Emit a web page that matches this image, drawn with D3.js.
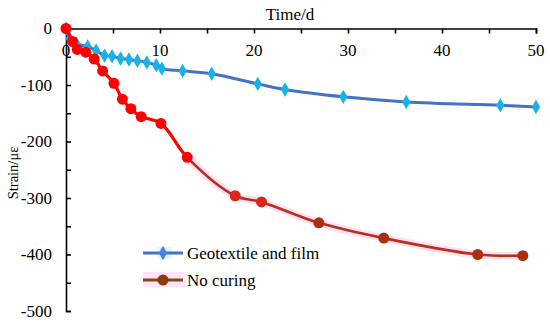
<!DOCTYPE html>
<html><head><meta charset="utf-8">
<script src="https://cdn.jsdelivr.net/npm/d3@7"></script>
<style>body{margin:0;background:#fff}svg{display:block}</style>
</head><body>
<svg id="c" width="550" height="327" font-family="'Liberation Serif', 'Times New Roman', Times, 'DejaVu Serif', serif"></svg>
<script>
const xTicks = [0, 10, 20, 30, 40, 50];
const yTicks = [0, -100, -200, -300, -400, -500];
const seriesNames = ["Geotextile and film", "No curing"];
const geoT = [0, 0.4, 1.1, 2.3, 3.2, 4.1, 4.9, 5.8, 6.7, 7.6, 8.6, 9.6, 10.2, 12.4, 15.5, 20.4, 23.3, 29.5, 36.2, 46.2, 50];
const geoV = [0, -18, -27, -32, -39, -48, -49, -53, -55, -57, -60, -65, -71, -75, -80, -98, -108, -121, -130, -136, -139];
const noT = [0, 0.7, 1.2, 2.1, 3.0, 3.9, 5.1, 6.0, 6.9, 8.0, 10.1, 12.9, 18.0, 20.8, 26.9, 33.8, 43.8, 48.6];
const noV = [0, -23, -37, -42, -54, -75, -97, -125, -142, -156, -168, -228, -296, -307, -344, -371, -400, -402];

const FONT = "'Liberation Serif', 'Times New Roman', Times, 'DejaVu Serif', serif";
const svg = d3.select("#c");
const x = d3.scaleLinear().domain([0, 50]).range([66, 536]);
const y = d3.scaleLinear().domain([0, -500]).range([28.5, 311]);

const geo = geoT.map((t, i) => [t, geoV[i]]);
const noc = noT.map((t, i) => [t, noV[i]]);
const line = d3.line().x(d => x(d[0])).y(d => y(d[1])).curve(d3.curveCatmullRom.alpha(0.5));

// axes
const xa = svg.append("g").attr("transform", `translate(0,${y(0)})`)
  .call(d3.axisTop(x).tickValues(d3.range(0, 51, 5)).tickSize(-5).tickFormat(""));
const ya = svg.append("g").attr("transform", `translate(${x(0)},0)`)
  .call(d3.axisLeft(y).tickValues(d3.range(0, -501, -50)).tickSize(-5).tickFormat(""));
[xa, ya].forEach(a => { a.selectAll("path,line").attr("stroke", "#000").attr("stroke-width", 1.6); });

svg.append("g").selectAll("text").data(yTicks).join("text")
  .attr("x", 52).attr("y", d => y(d) + 5.8).attr("text-anchor", "end").attr("font-family", FONT)
  .attr("font-size", 17).text(d => d === 0 ? "0" : "-" + Math.abs(d));
svg.append("g").selectAll("text").data(xTicks).join("text")
  .attr("x", d => x(d)).attr("y", 55.5).attr("text-anchor", "middle").attr("font-family", FONT)
  .attr("font-size", 17).text(d => d);

svg.append("text").attr("x", 290).attr("y", 20).attr("text-anchor", "middle").attr("font-family", FONT).attr("font-size", 17).text("Time/d");
svg.append("text").attr("transform", "translate(18,173) rotate(-90)").attr("text-anchor", "middle").attr("font-family", FONT).attr("font-size", 14.5).text("Strain/με");

// Geotextile series
svg.append("path").datum(geo).attr("d", line).attr("fill", "none").attr("stroke", "#4472c4").attr("stroke-width", 3);
const diamond = d3.symbol().type(d3.symbolDiamond).size(60);
svg.append("g").selectAll("path").data(geo).join("path")
  .attr("transform", d => `translate(${x(d[0])},${y(d[1])})`).attr("d", diamond).attr("fill", "#1ab0ec");

// No curing series
const split = x(12.9);
const defs = svg.append("defs");
defs.append("clipPath").attr("id", "cl").append("rect").attr("x", 0).attr("y", 0).attr("width", split).attr("height", 327);
defs.append("clipPath").attr("id", "cr").append("rect").attr("x", split).attr("y", 0).attr("width", 550 - split).attr("height", 327);
svg.append("path").datum(noc).attr("d", line).attr("fill", "none").attr("stroke", "#fde0f8").attr("stroke-width", 8).attr("clip-path", "url(#cr)");
svg.append("path").datum(noc).attr("d", line).attr("fill", "none").attr("stroke", "#ff0000").attr("stroke-width", 3.2).attr("clip-path", "url(#cl)");
svg.append("path").datum(noc).attr("d", line).attr("fill", "none").attr("stroke", "#b8301a").attr("stroke-width", 2.6).attr("clip-path", "url(#cr)");
svg.append("g").selectAll("circle").data(noc).join("circle")
  .attr("cx", d => x(d[0])).attr("cy", d => y(d[1])).attr("r", 5.5)
  .attr("fill", d => d[0] <= 12.9 ? "#ff0000" : (d[0] < 25 ? "#d8281a" : "#a8300f"));

// legend
const lg = svg.append("g");
lg.append("rect").attr("x", 157).attr("y", 247).attr("width", 15).attr("height", 12).attr("fill", "#dafbff");
lg.append("line").attr("x1", 143).attr("x2", 183).attr("y1", 253).attr("y2", 253).attr("stroke", "#4472c4").attr("stroke-width", 3);
lg.append("path").attr("transform", "translate(163,253)").attr("d", diamond).attr("fill", "#4a80ec");
lg.append("text").attr("x", 187).attr("y", 259).attr("font-family", FONT).attr("font-size", 17).text(seriesNames[0]);
lg.append("rect").attr("x", 143).attr("y", 272).attr("width", 42).attr("height", 15).attr("fill", "#fde3f8");
lg.append("line").attr("x1", 143).attr("x2", 183).attr("y1", 280).attr("y2", 280).attr("stroke", "#7e4a16").attr("stroke-width", 3);
lg.append("circle").attr("cx", 163).attr("cy", 280).attr("r", 5.5).attr("fill", "#8b3a0e");
lg.append("text").attr("x", 187).attr("y", 286).attr("font-family", FONT).attr("font-size", 17).text(seriesNames[1]);
</script>
</body></html>
